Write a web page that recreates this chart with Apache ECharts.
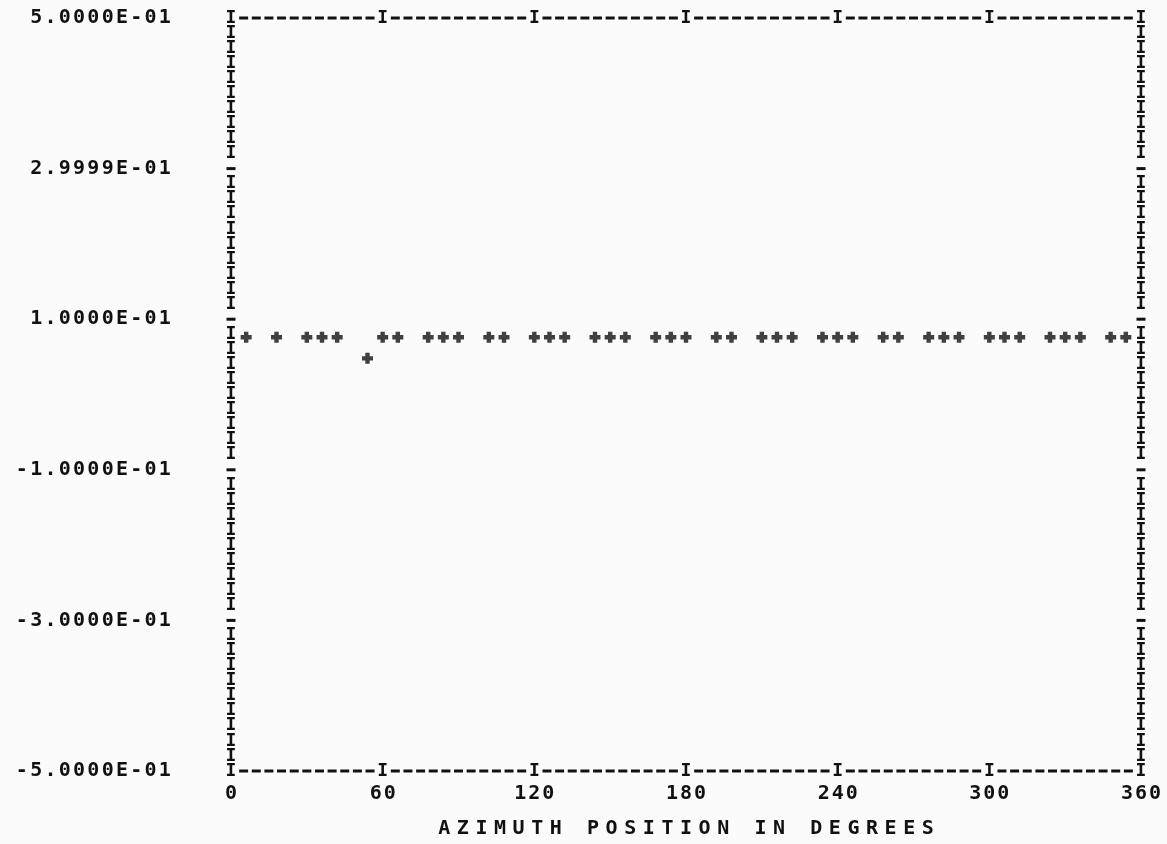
<!DOCTYPE html>
<html><head><meta charset="utf-8">
<script src="https://cdn.jsdelivr.net/npm/echarts@6/dist/echarts.min.js"></script>
<style>html,body{margin:0;padding:0;background:#fbfbfb}#chart{width:1167px;height:844px}</style>
</head><body><div id="chart"></div>
<script>
// ---- data ----
const xTitle = 'AZIMUTH POSITION IN DEGREES';
const xTicks = [0, 60, 120, 180, 240, 300, 360];
const xTickLabels = ['0', '60', '120', '180', '240', '300', '360'];
const yTicks = [-0.5, -0.3, -0.1, 0.1, 0.3, 0.5];
const yTickLabels = ['-5.0000E-01', '-3.0000E-01', '-1.0000E-01', '1.0000E-01', '2.9999E-01', '5.0000E-01'];
const azimuth = [6, 18, 30, 36, 42, 54, 60, 66, 78, 84, 90, 102, 108, 120, 126, 132, 144, 150, 156,
  168, 174, 180, 192, 198, 210, 216, 222, 234, 240, 246, 258, 264, 276, 282, 288, 300, 306, 312,
  324, 330, 336, 348, 354];
const values = [0.076, 0.076, 0.076, 0.076, 0.076, 0.048, 0.076, 0.076, 0.076, 0.076, 0.076, 0.076, 0.076,
  0.076, 0.076, 0.076, 0.076, 0.076, 0.076, 0.076, 0.076, 0.076, 0.076, 0.076, 0.076, 0.076, 0.076,
  0.076, 0.076, 0.076, 0.076, 0.076, 0.076, 0.076, 0.076, 0.076, 0.076, 0.076, 0.076, 0.076, 0.076,
  0.076, 0.076];

// ---- line-printer frame glyphs (decoration built from the axis extents) ----
const X_MIN = 0, X_MAX = 360, Y_MIN = -0.5, Y_MAX = 0.5;
const ROW_STEP = 0.02, ROWS = 50, DASH_STEP = 5;
const frameGlyphs = [];
for (let r = 0; r <= ROWS; r++) {
  const y = Y_MAX - r * ROW_STEP;
  const ch = (r === 0 || r === ROWS) ? 'I' : (r % 10 === 0 ? '-' : 'I');
  frameGlyphs.push([X_MIN, y, ch], [X_MAX, y, ch]);
}
for (let a = DASH_STEP; a < X_MAX; a += DASH_STEP) {
  const ch = a % 60 === 0 ? 'I' : '-';
  frameGlyphs.push([a, Y_MAX, ch], [a, Y_MIN, ch]);
}

const INK = '#111111';
const MONO = '"DejaVu Sans Mono", "Liberation Mono", monospace';
function spaced(str, key) {
  return str.split('').map(c => '{' + key + '|' + c + '}').join('');
}

const chart = echarts.init(document.getElementById('chart'));
chart.setOption({
  backgroundColor: '#fbfbfb',
  animation: false,
  grid: { left: 231, right: 26, top: 18, bottom: 72, containLabel: false },
  xAxis: {
    type: 'value', min: X_MIN, max: X_MAX, interval: 60,
    axisLine: { show: false }, axisTick: { show: false }, splitLine: { show: false },
    axisLabel: {
      margin: 13,
      formatter: v => {
        const i = xTicks.indexOf(Math.round(v));
        return i >= 0 ? spaced(xTickLabels[i], 'xl') : '';
      },
      rich: { xl: { width: 14, align: 'center', fontFamily: MONO, fontWeight: 'bold', fontSize: 20, color: INK } }
    },
    name: spaced(xTitle, 'nm'),
    nameLocation: 'middle', nameGap: 48,
    nameTextStyle: {
      rich: { nm: { width: 18.6, align: 'center', fontFamily: MONO, fontWeight: 'bold', fontSize: 20, color: INK } }
    }
  },
  yAxis: {
    type: 'value', min: Y_MIN, max: Y_MAX, interval: 0.1,
    axisLine: { show: false }, axisTick: { show: false }, splitLine: { show: false },
    axisLabel: {
      margin: 59,
      formatter: v => {
        const i = yTicks.findIndex(t => Math.abs(t - v) < 1e-6);
        return i >= 0 ? spaced(yTickLabels[i], 'yl') : '';
      },
      rich: { yl: { width: 14.3, align: 'center', fontFamily: MONO, fontWeight: 'bold', fontSize: 20, color: INK } }
    }
  },
  series: [
    {
      type: 'custom', silent: true, clip: false, z: 1,
      data: frameGlyphs.map(g => [g[0], g[1]]),
      encode: { x: 0, y: 1 },
      renderItem: function (params, api) {
        const p = api.coord([api.value(0), api.value(1)]);
        const ch = frameGlyphs[params.dataIndex][2];
        if (ch === '-') {
          return { type: 'rect', shape: { x: p[0] - 4.5, y: p[1] - 1.5, width: 9, height: 3 }, style: { fill: INK } };
        }
        return {
          type: 'text', x: p[0], y: p[1],
          style: { text: 'I', font: 'bold 18px ' + MONO, fill: INK, align: 'center', verticalAlign: 'middle' }
        };
      }
    },
    {
      type: 'scatter', silent: true, z: 2,
      symbol: 'path://M3,0H7V3H10V7H7V10H3V7H0V3H3Z',
      symbolSize: 11,
      itemStyle: { color: INK },
      data: azimuth.map((a, i) => [a, values[i]])
    }
  ]
});
</script>
</body></html>
